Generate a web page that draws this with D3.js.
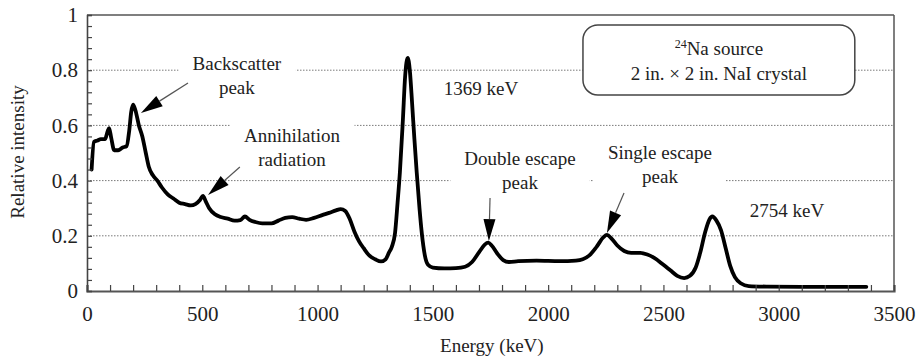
<!DOCTYPE html>
<html>
<head>
<meta charset="utf-8">
<script src="https://cdn.jsdelivr.net/npm/d3@7/dist/d3.min.js"></script>
<style>
  body { margin: 0; background: #fff; }
  svg text { font-family: "Liberation Serif", "Times New Roman", serif; fill: #222; }
</style>
</head>
<body>
<div class="chart"></div>
<script>
// spectrum (keV, relative intensity)
var energy = [20, 30, 45, 60, 78, 90, 96, 105, 118, 135, 155, 172, 183, 192, 200, 210, 225, 240, 255, 268,
  285, 305, 325, 350, 375, 400, 425, 450, 470, 490, 503, 515, 530, 555, 580, 610, 640, 665, 685, 705,
  730, 760, 800, 830, 860, 890, 920, 950, 985, 1020, 1050, 1080, 1100, 1120, 1140, 1160, 1180, 1200, 1225, 1250,
  1275, 1295, 1310, 1322, 1336, 1347, 1357, 1370, 1380, 1391, 1400, 1410, 1420, 1430, 1442, 1452, 1465, 1479, 1500, 1550,
  1600, 1640, 1670, 1700, 1725, 1740, 1755, 1780, 1805, 1830, 1870, 1950, 2050, 2120, 2150, 2180, 2210, 2240, 2255, 2275,
  2300, 2330, 2360, 2400, 2430, 2460, 2500, 2530, 2560, 2590, 2615, 2640, 2660, 2680, 2700, 2712, 2730, 2750, 2770, 2790,
  2810, 2835, 2870, 2950, 3100, 3250, 3380];
var intensity = [0.44, 0.54, 0.545, 0.55, 0.55, 0.58, 0.59, 0.555, 0.51, 0.51, 0.52, 0.525, 0.58, 0.65, 0.675, 0.655, 0.6, 0.56, 0.5, 0.45,
  0.42, 0.4, 0.375, 0.35, 0.335, 0.32, 0.315, 0.31, 0.315, 0.33, 0.345, 0.325, 0.3, 0.278, 0.268, 0.262, 0.255, 0.257, 0.27, 0.258,
  0.25, 0.245, 0.245, 0.255, 0.265, 0.268, 0.262, 0.258, 0.265, 0.275, 0.283, 0.292, 0.297, 0.29, 0.26, 0.215, 0.18, 0.155, 0.128, 0.115,
  0.107, 0.115, 0.14, 0.16, 0.21, 0.32, 0.43, 0.62, 0.78, 0.845, 0.8, 0.68, 0.55, 0.43, 0.3, 0.21, 0.13, 0.095, 0.085, 0.082,
  0.083, 0.088, 0.105, 0.14, 0.168, 0.175, 0.165, 0.135, 0.112, 0.105, 0.108, 0.11, 0.108, 0.11, 0.115, 0.13, 0.16, 0.195, 0.203, 0.19,
  0.165, 0.145, 0.138, 0.138, 0.132, 0.12, 0.095, 0.075, 0.055, 0.047, 0.055, 0.085, 0.14, 0.21, 0.26, 0.27, 0.255, 0.22, 0.155, 0.09,
  0.05, 0.028, 0.018, 0.016, 0.015, 0.015, 0.015];

var xTickValues = [0, 500, 1000, 1500, 2000, 2500, 3000, 3500];
var yTickValues = [0, 0.2, 0.4, 0.6, 0.8, 1];
var yTickLabels = ["0", "0.2", "0.4", "0.6", "0.8", "1"];
var gridValues = [0.2, 0.4, 0.6, 0.8];

// annotations
var labelText = [["Backscatter", "peak"], ["Annihilation", "radiation"], ["1369 keV"],
  ["Double escape", "peak"], ["Single escape", "peak"], ["2754 keV"]];
var labelEnergy = [650, 889, 1709, 1878, 2485, 3036];
var labelIntensity = [0.80, 0.54, 0.71, 0.457, 0.478, 0.268];
var labelBoxed = [true, true, false, true, true, false];
var arrowFrom = [[438, 0.754], [663, 0.449], [1748, 0.337], [2329, 0.355]];
var arrowTo = [[234, 0.645], [525, 0.348], [1743, 0.181], [2255, 0.21]];
var sourceLines = ["Na source", "2 in. \u00d7 2 in. NaI crystal"];
var sourceBox = [2151, 3330, 0.964, 0.71];

var svgWidth = 918;
var svgHeight = 362;
var margin = {top: 15, right: 24, bottom: 71, left: 87};
var width = svgWidth - margin.left - margin.right;
var height = svgHeight - margin.top - margin.bottom;

var svg = d3.select(".chart").append("svg")
  .attr("width", svgWidth)
  .attr("height", svgHeight)
  .style("display", "block");
svg.append("rect").attr("width", svgWidth).attr("height", svgHeight).attr("fill", "#fff");

var chart = svg.append("g")
  .attr("transform", "translate(" + margin.left + "," + margin.top + ")");

var x = d3.scaleLinear().domain([0, 3500]).range([0, width]);
var y = d3.scaleLinear().domain([0, 1]).range([height, 0]);

// dotted gridlines
chart.append("g").selectAll("line")
  .data(gridValues)
  .enter().append("line")
  .attr("x1", 0).attr("x2", width)
  .attr("y1", function(d) { return y(d); })
  .attr("y2", function(d) { return y(d); })
  .attr("stroke", "#7a7a7a")
  .attr("stroke-width", 1)
  .attr("stroke-dasharray", "1.5,1.5");

// white boxes behind labels, like the original text boxes
var boxLayer = chart.append("g");
var lineLayer = chart.append("g");
var textLayer = chart.append("g");

labelText.forEach(function(lines, i) {
  var t = textLayer.append("text")
    .attr("text-anchor", "middle")
    .style("font-size", "19px");
  lines.forEach(function(s, j) {
    t.append("tspan")
      .attr("x", x(labelEnergy[i]))
      .attr("y", y(labelIntensity[i]) + j * 24)
      .text(s);
  });
  if (labelBoxed[i]) {
    var b = t.node().getBBox();
    boxLayer.append("rect")
      .attr("x", b.x - 14).attr("y", b.y - 8)
      .attr("width", b.width + 28).attr("height", b.height + 14)
      .attr("fill", "#fff");
  }
});

// source box
textLayer.append("rect")
  .attr("x", x(sourceBox[0]))
  .attr("y", y(sourceBox[2]))
  .attr("width", x(sourceBox[1]) - x(sourceBox[0]))
  .attr("height", y(sourceBox[3]) - y(sourceBox[2]))
  .attr("rx", 15).attr("ry", 15)
  .attr("fill", "#fff")
  .attr("stroke", "#444")
  .attr("stroke-width", 1.5);
var cx = x((sourceBox[0] + sourceBox[1]) / 2);
var st = textLayer.append("text")
  .attr("text-anchor", "middle")
  .attr("x", cx)
  .attr("y", y(0.855))
  .style("font-size", "19px");
st.append("tspan").attr("baseline-shift", "super").style("font-size", "12px").text("24");
st.append("tspan").text(sourceLines[0]);
textLayer.append("text")
  .attr("text-anchor", "middle")
  .attr("x", cx)
  .attr("y", y(0.764))
  .style("font-size", "19px")
  .text(sourceLines[1]);

// spectrum curve
var pts = energy.map(function(e, i) { return [e, intensity[i]]; });
var line = d3.line()
  .x(function(d) { return x(d[0]); })
  .y(function(d) { return y(d[1]); })
  .curve(d3.curveMonotoneX);
lineLayer.append("path")
  .datum(pts)
  .attr("d", line)
  .attr("fill", "none")
  .attr("stroke", "#000")
  .attr("stroke-width", 3.8)
  .attr("stroke-linejoin", "round")
  .attr("stroke-linecap", "round");

// arrows
arrowFrom.forEach(function(a, i) {
  var x1 = x(a[0]), y1 = y(a[1]);
  var x2 = x(arrowTo[i][0]), y2 = y(arrowTo[i][1]);
  var dx = x2 - x1, dy = y2 - y1;
  var len = Math.sqrt(dx * dx + dy * dy);
  var ux = dx / len, uy = dy / len;
  var hl = 22, hw = 6;
  var bx = x2 - ux * hl, by = y2 - uy * hl;
  textLayer.append("line")
    .attr("x1", x1).attr("y1", y1).attr("x2", bx).attr("y2", by)
    .attr("stroke", "#555").attr("stroke-width", 1.2);
  textLayer.append("polygon")
    .attr("points", [[x2, y2], [bx - uy * hw, by + ux * hw], [bx + uy * hw, by - ux * hw]].join(" "))
    .attr("fill", "#000");
});

// frame
chart.append("line").attr("x1", 0).attr("x2", width).attr("y1", 0).attr("y2", 0)
  .attr("stroke", "#555").attr("stroke-width", 1.5);
chart.append("line").attr("x1", width).attr("x2", width).attr("y1", 0).attr("y2", height)
  .attr("stroke", "#555").attr("stroke-width", 1.5);

// minor ticks (inward)
var xMinor = chart.append("g")
  .attr("transform", "translate(0," + height + ")")
  .call(d3.axisBottom(x).tickValues(d3.range(0, 3501, 100)).tickSize(-6).tickFormat(""));
var yMinor = chart.append("g")
  .call(d3.axisLeft(y).tickValues(d3.range(0, 26).map(function(k) { return k * 0.04; })).tickSize(-5).tickFormat(""));
xMinor.select(".domain").attr("stroke", "#555").attr("stroke-width", 2.2);
yMinor.select(".domain").attr("stroke", "#444").attr("stroke-width", 1.6);
xMinor.selectAll(".tick line").attr("stroke", "#444").attr("stroke-width", 1.2);
yMinor.selectAll(".tick line").attr("stroke", "#444").attr("stroke-width", 1.2);

// tick labels
var xAxis = chart.append("g")
  .attr("transform", "translate(0," + height + ")")
  .call(d3.axisBottom(x).tickValues(xTickValues).tickSize(0).tickPadding(15).tickFormat(d3.format("d")));
xAxis.select(".domain").remove();
xAxis.selectAll("text").style("font-size", "21px").attr("fill", "#222");

var yAxis = chart.append("g")
  .call(d3.axisLeft(y).tickValues(yTickValues).tickSize(0).tickPadding(9)
    .tickFormat(function(d, i) { return yTickLabels[i]; }));
yAxis.select(".domain").remove();
yAxis.selectAll("text").style("font-size", "21px").attr("fill", "#222");

// axis titles
chart.append("text")
  .attr("transform", "rotate(-90)")
  .attr("x", -(152 - margin.top))
  .attr("y", 24 - margin.left)
  .attr("text-anchor", "middle")
  .style("font-size", "19px")
  .text("Relative intensity");
chart.append("text")
  .attr("x", x(1756))
  .attr("y", height + 61)
  .attr("text-anchor", "middle")
  .style("font-size", "19px")
  .text("Energy (keV)");
</script>
</body>
</html>
